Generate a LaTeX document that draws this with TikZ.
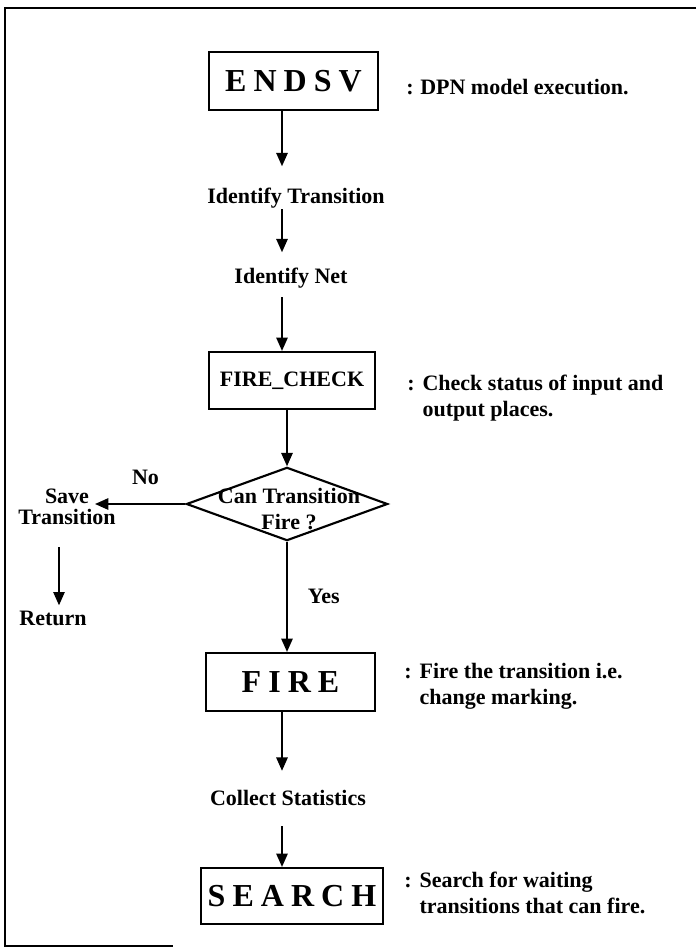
\documentclass[tikz,border=0pt]{standalone}
\usepackage{fontspec}
\setmainfont{Liberation Serif}
\newfontfamily\titlefont[LetterSpace=22]{Liberation Serif}
\usetikzlibrary{arrows.meta,positioning,shapes.geometric}
\newcommand{\steplines}[3]{\begin{tabular}[t]{@{}#1@{}}#2\\#3\end{tabular}}
\newcommand{\notelines}[2]{:\hspace{6pt}\steplines{l}{#1}{#2}}

\begin{document}
\begin{tikzpicture}[x=0.75pt,y=-0.75pt,font=\fontsize{16.5}{19.5}\selectfont\bfseries,
    box/.style={draw,line width=1.6pt,inner sep=0pt},
    title/.style={box,font=\fontsize{24}{28}\selectfont\titlefont\bfseries},
    flow/.style={line width=1.3pt,-{Triangle[length=10pt,width=8.5pt]}},
    txt/.style={inner sep=0pt,anchor=base},
    note/.style={inner sep=0pt,anchor=base west}]
  \useasboundingbox (0,0) rectangle (696,948);
  \draw[line width=2pt] (696,8) -- (5,8) -- (5,946) -- (173,946);
  \coordinate (axis) at (282,0);
  \coordinate (saveax) at (59,0);
  % main column
  \node[title,minimum width=126.75pt,minimum height=43.5pt] (endsv) at (293.5,81) {ENDSV};
  \node[txt] (idtr) at (296,204) {Identify Transition};
  \node[txt] (idnet) at (291,284) {Identify Net};
  \node[box,minimum width=124.5pt,minimum height=42.75pt] (fcheck) at (292,380.5) {FIRE\_CHECK};
  \node[diamond,box,minimum width=151pt,minimum height=55pt] (can) at (287,504) {};
  \node[txt] (cantext) at (289,503) {\steplines{c}{Can Transition}{Fire ?}};
  \node[title,minimum width=126.75pt,minimum height=43.5pt] (fire) at (290.5,682) {FIRE};
  \node[txt] (collect) at (288,805) {Collect Statistics};
  \node[title,minimum width=136.5pt,minimum height=42pt] (search) at (292,896) {SEARCH};
  % left branch
  \coordinate (savein) at (95,504);
  \node[txt,font=\fontsize{16.5}{14.5}\selectfont\bfseries] (save) at (67,503) {\steplines{c}{Save}{Transition}};
  \node[txt] (ret) at (53,625) {Return};
  % notes
  \node[note] (endsvnote) at (406,95) {:\hspace{5pt}DPN model execution.};
  \node[note] (fchecknote) at (407,390) {\notelines{Check status of input and}{output places.}};
  \node[note] (firenote) at (404,678) {\notelines{Fire the transition i.e.}{change marking.}};
  \node[note] (searchnote) at (404,887) {\notelines{Search for waiting}{transitions that can fire.}};
  % connectors
  \draw[flow,shorten >=16.5pt] (endsv.south -| axis) -- (idtr.north -| axis);
  \draw[flow,shorten >=12pt] (idtr.south -| axis) -- (idnet.north -| axis);
  \draw[flow,shorten <=6pt] (idnet.south -| axis) -- (fcheck.north -| axis);
  \draw[flow] (fcheck.south -| can.north) -- (can.north);
  \draw[flow] (can.west) -- (savein)
    node[midway,above=14pt,xshift=4pt,inner sep=0pt] (no) {No};
  \draw[flow,shorten <=12.75pt,shorten >=3.75pt] (save.south -| saveax) -- (ret.north -| saveax);
  \draw[flow] (can.south) -- (fire.north -| can.south)
    node[midway,right=15pt,inner sep=0pt] (yes) {Yes};
  \draw[flow,shorten >=14pt] (fire.south -| axis) -- (collect.north -| axis);
  \draw[flow,shorten <=15.75pt] (collect.south -| axis) -- (search.north -| axis);
\end{tikzpicture}
\end{document}
